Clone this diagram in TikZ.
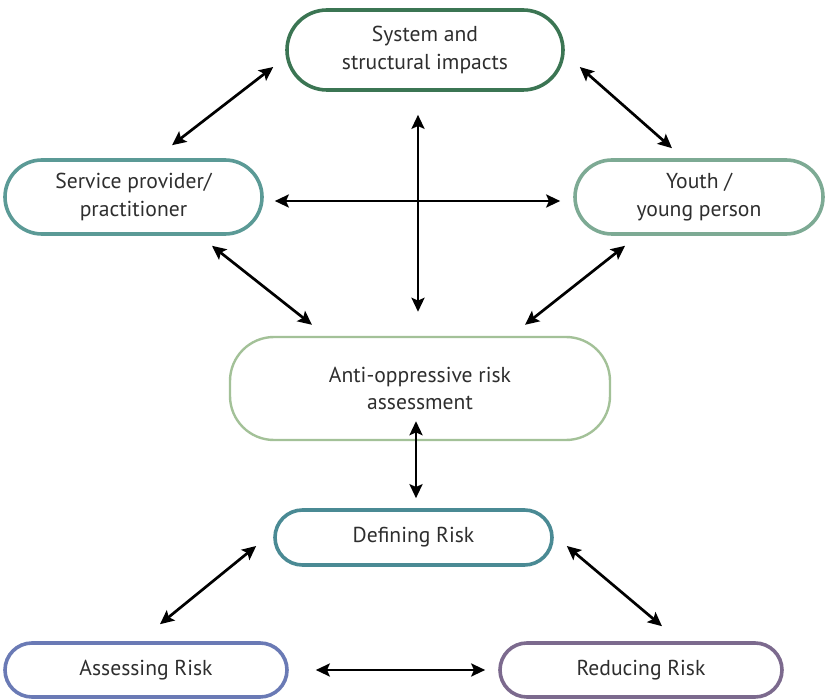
\documentclass[tikz,border=0pt]{standalone}
\usepackage{fontspec}
\setmainfont{PT Sans}
\usepackage{tikz}
\usetikzlibrary{arrows.meta, calc}
\definecolor{sysgreen}{HTML}{3B7553}
\definecolor{servteal}{HTML}{5B9A96}
\definecolor{youthgreen}{HTML}{7DAA94}
\definecolor{antigreen}{HTML}{A3C198}
\definecolor{defteal}{HTML}{4A8A94}
\definecolor{assblue}{HTML}{6A7AB5}
\definecolor{redpurple}{HTML}{7C6A8E}
\definecolor{textgray}{HTML}{2E2E2E}
\tikzset{
  pill/.style={
    draw=#1,
    line width=1.8pt,
    rounded corners=20pt,
    align=center,
    inner sep=0pt,
    font=\fontsize{10.8}{13.8}\selectfont,
    text=textgray
  },
  link/.style={
    {Stealth[length=7pt,width=6.5pt,inset=1.4pt]}-{Stealth[length=7pt,width=6.5pt,inset=1.4pt]},
    line width=1.35pt,
    color=black
  }
}

\begin{document}
\begin{tikzpicture}[x=0.5pt, y=-0.5pt]
    \useasboundingbox (0,0) rectangle (825,700);

    % 上层：三个方框
    \node[pill=sysgreen, minimum width=138pt, minimum height=40pt] (sys) at (425,50)
      {System and\\structural impacts};
    \node[pill=servteal, minimum width=128.5pt, minimum height=37pt, rounded corners=18.5pt] (serv) at (133.5,197)
      {Service provider/\\practitioner};
    \node[pill=youthgreen, minimum width=124pt, minimum height=37pt, rounded corners=18.5pt] (youth) at (699,197)
      {Youth /\\young person};

    % 中间：评估
    \node[pill=antigreen, line width=1.2pt, minimum width=190pt, minimum height=51.5pt, rounded corners=22pt] (anti) at (420,388.5)
      {Anti-oppressive risk\\assessment};

    % 下层：风险
    \node[pill=defteal, minimum width=138.5pt, minimum height=27.5pt, rounded corners=13.75pt] (def) at (413.5,537.5)
      {Defining Risk};
    \node[pill=assblue, minimum width=141pt, minimum height=27pt, rounded corners=13.5pt] (ass) at (146,670)
      {Assessing Risk};
    \node[pill=redpurple, minimum width=141pt, minimum height=27pt, rounded corners=13.5pt] (red) at (641,670)
      {Reducing Risk};

    % 双向箭头
    \draw[link] ([shift={(-12,17)}]sys.west) -- ([shift={(38.5,-13)}]serv.north);
    \draw[link] ([shift={(15,17)}]sys.east) -- ([shift={(-27,-10)}]youth.north);
    \draw[link] ([shift={(11,4)}]serv.east) -- ([shift={(-13,4)}]youth.west);
    \draw[link] ([shift={(-7,23)}]sys.south) -- ([shift={(-2,-24)}]anti.north);
    \draw[link] ([shift={(78.5,10)}]serv.south) -- ([shift={(-108,-11)}]anti.north);
    \draw[link] ([shift={(-74,10)}]youth.south) -- ([shift={(105,-11)}]anti.north);
    \draw[link] ([shift={(-4,-20)}]anti.south) -- ([shift={(2.5,-10)}]def.north);
    \draw[link] ([shift={(-17,8.5)}]def.west) -- ([shift={(14,-17)}]ass.north);
    \draw[link] ([shift={(13,8.5)}]def.east) -- ([shift={(21,-15)}]red.north);
    \draw[link] ([shift={(27,0)}]ass.east) -- ([shift={(-13,0)}]red.west);

\end{tikzpicture}
\end{document}
